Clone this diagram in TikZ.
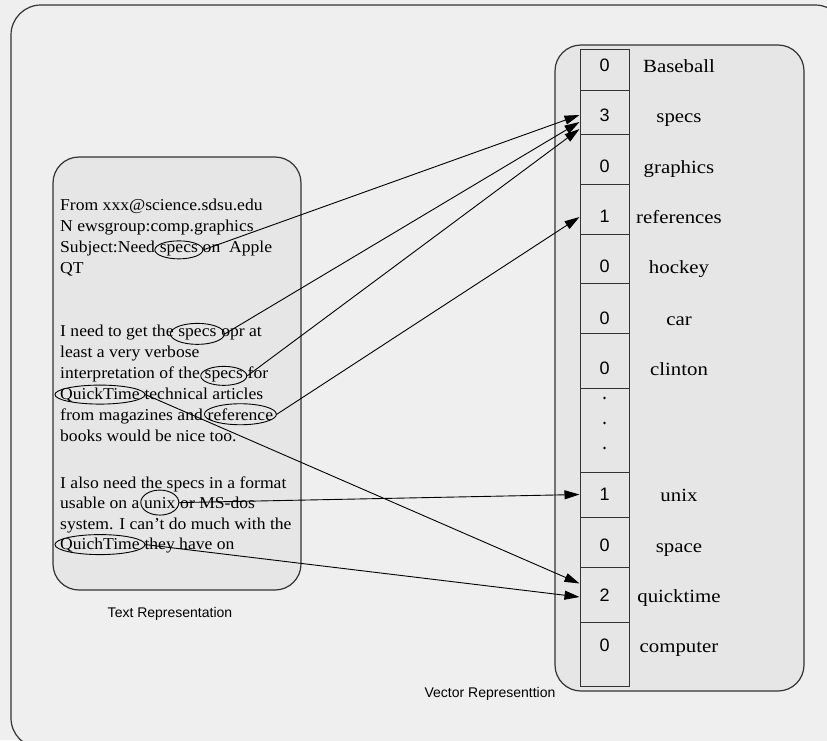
\documentclass[tikz,border=0pt]{standalone}
\usepackage{fontspec}
\setmainfont[FakeStretch=1.12]{Liberation Serif}
\newfontfamily\leftserif[FakeStretch=1.06]{Liberation Serif}
\setsansfont{Liberation Sans}
\usetikzlibrary{arrows.meta,shapes.geometric}
\definecolor{bgc}{HTML}{EFEFEF}
\definecolor{boxc}{HTML}{E6E6E6}
\definecolor{edgec}{HTML}{333333}
\begin{document}
\begin{tikzpicture}[x=1pt,y=-1pt,
 txt/.style={inner sep=0pt, anchor=base west, font=\leftserif\fontsize{16.6}{20}\selectfont},
 oval/.style={ellipse, draw=black, line width=0.9pt, inner sep=0pt},
 cellbox/.style={draw=edgec, line width=1pt, minimum width=49pt, inner sep=0pt},
 num/.style={font=\sffamily\fontsize{18}{20}\selectfont, inner sep=0pt},
 term/.style={font=\fontsize{18.6}{20}\selectfont, inner sep=0pt, anchor=base},
 link/.style={line width=0.9pt, -{Triangle[length=15pt,width=9pt]}},
 panel/.style={draw=edgec, line width=1.2pt, fill=boxc, rounded corners=26pt},
 captxt/.style={font=\sffamily\fontsize{14}{16}\selectfont, inner sep=0pt, anchor=base}
]
\fill[bgc] (0,0) rectangle (827,740);
\useasboundingbox (0,0) rectangle (827,740);
\clip (0,0) rectangle (827,740);
% outer frame
\draw[draw=edgec, line width=1.2pt, fill=bgc, rounded corners=30pt] (11,5) rectangle (845,748);
% panels
\draw[panel] (53,157) rectangle (301,590);
\draw[panel] (555,45) rectangle (804,691);

% vector cells
\node[cellbox, minimum height=41pt] (c1) at (604.5,69.5) {};
\node[cellbox, minimum height=44pt] (c2) at (604.5,112) {};
\node[cellbox, minimum height=50pt] (c3) at (604.5,159) {};
\node[cellbox, minimum height=50pt] (c4) at (604.5,209) {};
\node[cellbox, minimum height=49pt] (c5) at (604.5,258.5) {};
\node[cellbox, minimum height=50pt] (c6) at (604.5,308) {};
\node[cellbox, minimum height=55pt] (c7) at (604.5,360.5) {};
\node[cellbox, minimum height=84pt] (c8) at (604.5,430) {};
\node[cellbox, minimum height=45pt] (c9) at (604.5,494.5) {};
\node[cellbox, minimum height=50pt] (c10) at (604.5,542) {};
\node[cellbox, minimum height=55pt] (c11) at (604.5,594.5) {};
\node[cellbox, minimum height=64pt] (c12) at (604.5,654) {};

% numbers
\node[num] (n1) at (604.5,65) {0};
\node[num] (n2) at (604.5,115) {3};
\node[num] (n3) at (604.5,166) {0};
\node[num] (n4) at (604.5,216.5) {1};
\node[num] (n5) at (604.5,266) {0};
\node[num] (n6) at (604.5,318) {0};
\node[num] (n7) at (604.5,368) {0};
\node[num] (n9) at (604.5,494) {1};
\node[num] (n10) at (604.5,545) {0};
\node[num] (n11) at (604.5,595) {2};
\node[num] (n12) at (604.5,645) {0};
\fill (604.5,398) circle (1.4pt);
\fill (604.5,423) circle (1.4pt);
\fill (604.5,448) circle (1.4pt);

% terms
\node[term] (t1) at (679,72) {Baseball};
\node[term] (t2) at (679,122) {specs};
\node[term] (t3) at (679,173) {graphics};
\node[term] (t4) at (679,223) {references};
\node[term] (t5) at (679,273) {hockey};
\node[term] (t6) at (679,325) {car};
\node[term] (t7) at (679,375) {clinton};
\node[term] (t9) at (679,501) {unix};
\node[term] (t10) at (679,552) {space};
\node[term] (t11) at (679,602) {quicktime};
\node[term] (t12) at (679,652) {computer};

% text
\node[txt] (l1) at (60,210) {From xxx@science.sdsu.edu};
\node[txt] (l2) at (60,231) {N ewsgroup:comp.graphics};
\node[txt] (l3a) at (60,252) {Subject:Need};
\node[txt] (w1) at ([xshift=4.4pt]l3a.base east) {specs};
\node[txt] (l3b) at ([xshift=4.4pt]w1.base east) {on\ \ Apple};
\node[txt] (l4) at (60,273) {QT};
\node[txt] (l5a) at (60,336) {I need to get the};
\node[txt] (w2) at ([xshift=4.4pt]l5a.base east) {specs};
\node[txt] (l5b) at ([xshift=4.4pt]w2.base east) {opr at};
\node[txt] (l6) at (60,357) {least a very verbose};
\node[txt] (l7a) at (60,378) {interpretation of the};
\node[txt] (w3) at ([xshift=4.4pt]l7a.base east) {specs};
\node[txt] (l7b) at ([xshift=4.4pt]w3.base east) {for};
\node[txt] (w4) at (60,399) {QuickTime};
\node[txt] (l8b) at ([xshift=4.4pt]w4.base east) {technical articles};
\node[txt] (l9a) at (60,420) {from magazines and};
\node[txt] (w5) at ([xshift=4.4pt]l9a.base east) {reference};
\node[txt] (l10) at (60,441) {books would be nice too.};
\node[txt] (l11) at (60,488) {I also need the specs in a format};
\node[txt] (l12a) at (60,508) {usable on a};
\node[txt] (w6) at ([xshift=4.4pt]l12a.base east) {unix};
\node[txt] (l12b) at ([xshift=4.4pt]w6.base east) {or MS-dos};
\node[txt] (l13) at (60,529) {system. I can’t do much with the};
\node[txt] (w7) at (60,549) {QuichTime};
\node[txt] (l14b) at ([xshift=4.4pt]w7.base east) {they have on};

% ellipses
\node[oval, minimum width=48pt, minimum height=18pt] (e1) at (w1.center) {};
\node[oval, minimum width=54pt, minimum height=21pt] (e2) at (w2.center) {};
\node[oval, minimum width=46pt, minimum height=19pt] (e3) at (w3.center) {};
\node[oval, minimum width=90pt, minimum height=19pt] (e4) at (w4.center) {};
\node[oval, minimum width=72pt, minimum height=21pt] (e5) at (w5.center) {};
\node[oval, minimum width=38pt, minimum height=25pt] (e6) at (w6.center) {};
\node[oval, minimum width=90pt, minimum height=20pt] (e7) at (w7.center) {};

% links
\draw[link] (e1.east) -- ([yshift=-3pt]c2.west);
\draw[link] (e2.east) -- ([yshift=-10pt]c2.west);
\draw[link] (e3.east) -- ([yshift=-17pt]c2.west);
\draw[link] (e5.east) -- ([yshift=-8pt]c4.west);
\draw[link] (e6.east) -- (c9.west);
\draw[link] (e4.east) -- ([yshift=11pt]c11.west);
\draw[link] (e7.east) -- ([yshift=-2.5pt]c11.west);

% captions
\node[captxt] (tl) at (170,617) {Text Representation};
\node[captxt] (vl) at (490,697) {Vector Representtion};
\end{tikzpicture}
\end{document}
